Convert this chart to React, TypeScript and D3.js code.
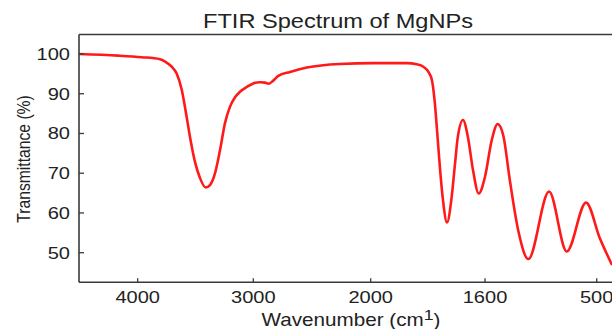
import React from "react";
import * as d3 from "d3";

const title = "FTIR Spectrum of MgNPs";
const xLabel = "Wavenumber (cm";
const xLabelSup = "1";
const yLabel = "Transmittance (%)";

const xTickValues = [4000, 3000, 2000, 1600, 500];
const xTickLabels = ["4000", "3000", "2000", "1600", "500"];
const yTickValues = [50, 60, 70, 80, 90, 100];

const wavenumber = [
  4508, 4168, 3965, 3807, 3763, 3706, 3663, 3619, 3582, 3548, 3504, 3461, 3412,
  3375, 3331, 3288, 3245, 3202, 3158, 3115, 3057, 3000, 2943, 2900, 2872, 2830,
  2787, 2687, 2545, 2261, 1991, 1874, 1839, 1816, 1798, 1786, 1776, 1767, 1758,
  1747, 1733, 1718, 1706, 1695, 1677, 1660, 1642, 1622, 1600, 1534, 1475, 1420,
  1354, 1272, 1173, 969, 795, 605, 467, 349,
];
const transmittance = [
  100, 99.6, 99.2, 98.7, 98.1, 96.8, 95.1, 91, 85.1, 79.2, 72.8, 68.8, 66.4, 67,
  70, 75.8, 82.6, 86.7, 89.1, 90.5, 91.7, 92.6, 92.9, 92.8, 92.5, 93.3, 94.5,
  95.5, 96.6, 97.5, 97.7, 97.7, 97.4, 96.8, 95.5, 93.5, 88, 80, 71.6, 63.2,
  57.6, 63.2, 71.6, 79.2, 83.4, 79.2, 70.8, 64.9, 69.1, 78.3, 82.4, 79.5,
  68, 55.5, 48.4, 65.4, 50.3, 62.6, 53.5, 46.9,
];

const W = 612;
const H = 329;
const left = 79;
const right = 612;
const top = 34.5;
const bottom = 282.3;
const SX = 1.18;
const FONT = "'Liberation Sans', Arial, Helvetica, sans-serif";
const AXIS = "#3a3a3a";

export default function App() {
  const x = d3
    .scaleLinear()
    .domain(xTickValues)
    .range([137.7, 253.3, 370.7, 485, 596.7]);
  const y = d3.scaleLinear().domain([50, 100]).range([252.7, 54]);

  const pts = wavenumber.map((w, i) => [x(w), y(transmittance[i])] as [number, number]);
  const line = d3.line().curve(d3.curveMonotoneX)(pts) || "";

  return (
    <svg
      width={W}
      height={H}
      style={{ position: "absolute", left: 0, top: 0, background: "#fff" }}
    >
      <defs>
        <clipPath id="plot">
          <rect x={left} y={top} width={right - left} height={bottom - top} />
        </clipPath>
      </defs>
      <rect x={0} y={0} width={W} height={H} fill="#fff" />

      <text
        transform={`translate(338,28) scale(${SX},1)`}
        textAnchor="middle"
        fontFamily={FONT}
        fontSize={20}
        fill="#222"
      >
        {title}
      </text>

      <path d={line} fill="none" stroke="#ff1a1a" strokeWidth={2.6} clipPath="url(#plot)" strokeLinejoin="round" />

      <line x1={left} x2={right} y1={top} y2={top} stroke={AXIS} strokeWidth={1.6} />
      <line x1={left} x2={right} y1={bottom} y2={bottom} stroke={AXIS} strokeWidth={1.6} />
      <line x1={left} x2={left} y1={top} y2={bottom} stroke={AXIS} strokeWidth={1.6} />

      {yTickValues.map((v) => (
        <g key={"y" + v}>
          <line x1={left} x2={left + 5} y1={y(v)} y2={y(v)} stroke={AXIS} strokeWidth={1.3} />
          <text
            transform={`translate(70,${y(v) + 6}) scale(${SX},1)`}
            textAnchor="end"
            fontFamily={FONT}
            fontSize={17}
            fill="#222"
          >
            {v}
          </text>
        </g>
      ))}

      {xTickValues.map((v, i) => (
        <g key={"x" + v}>
          <line x1={x(v)} x2={x(v)} y1={bottom} y2={bottom - 4} stroke={AXIS} strokeWidth={1.3} />
          <text
            transform={`translate(${x(v)},302.5) scale(${SX},1)`}
            textAnchor="middle"
            fontFamily={FONT}
            fontSize={17}
            fill="#222"
          >
            {xTickLabels[i]}
          </text>
        </g>
      ))}

      <text
        transform={`translate(351,325.5) scale(${SX},1)`}
        textAnchor="middle"
        fontFamily={FONT}
        fontSize={17.5}
        fill="#222"
      >
        {xLabel}
        <tspan dy={-6} fontSize={15}>{xLabelSup}</tspan>
        <tspan dy={6}>)</tspan>
      </text>

      <text
        transform={`translate(30,159) scale(${SX},1) rotate(-90)`}
        textAnchor="middle"
        fontFamily={FONT}
        fontSize={15.7}
        fill="#222"
      >
        {yLabel}
      </text>
    </svg>
  );
}
